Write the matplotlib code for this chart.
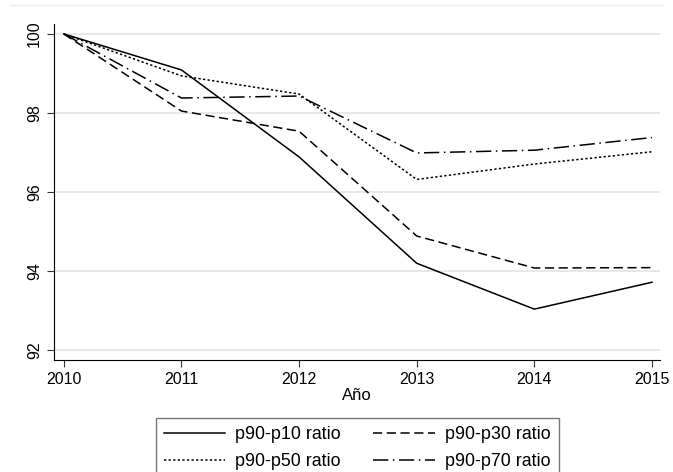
import matplotlib
matplotlib.use('Agg')
import matplotlib.pyplot as plt

plt.rcParams['font.family'] = ['Liberation Sans', 'DejaVu Sans']

years = [2010, 2011, 2012, 2013, 2014, 2015]
p90_p10 = [100, 99.09, 96.89, 94.20, 93.04, 93.72]
p90_p30 = [100, 98.05, 97.54, 94.89, 94.08, 94.09]
p90_p50 = [100, 98.94, 98.48, 96.32, 96.71, 97.02]
p90_p70 = [100, 98.38, 98.43, 96.99, 97.06, 97.38]

fig = plt.figure(figsize=(6.73, 4.72), dpi=100)
ax = fig.add_axes([0.080, 0.237, 0.901, 0.712])

lw = 1.1
l1, = ax.plot(years, p90_p10, color='black', lw=lw, ls='-', label='p90-p10 ratio')
l2, = ax.plot(years, p90_p30, color='black', lw=lw, ls=(0, (6, 3)), label='p90-p30 ratio')
l3, = ax.plot(years, p90_p50, color='black', lw=lw, ls=(0, (1.5, 1.5)), label='p90-p50 ratio')
l4, = ax.plot(years, p90_p70, color='black', lw=lw, ls=(0, (10, 3, 1, 3)), label='p90-p70 ratio')

ax.set_xlim(2009.915, 2015.07)
ax.set_ylim(91.75, 100.25)
ax.set_xticks(years)
ax.set_yticks([92, 94, 96, 98, 100])
ax.yaxis.grid(True, color='#e4e4e4', lw=1.2)
ax.set_axisbelow(True)
for s in ['top', 'right']:
    ax.spines[s].set_visible(False)
ax.tick_params(labelsize=11.5, length=5, color='#333333')
plt.setp(ax.get_yticklabels(), rotation=90, va='center')
ax.set_xlabel('Año', fontsize=12, labelpad=1)

# orden por filas como en el original
hs = [l1, l3, l2, l4]
leg = ax.legend(hs, [h.get_label() for h in hs], loc='upper center',
                bbox_to_anchor=(0.5, -0.146), ncol=2,
                fontsize=12.9, frameon=True, fancybox=False, edgecolor='#555555',
                handlelength=3.45, handletextpad=0.55, columnspacing=1.8,
                borderpad=0.45, labelspacing=0.54)
leg.get_frame().set_linewidth(1.0)

fig.add_artist(plt.Line2D([0.015, 0.985], [0.99, 0.99], color='#eeeeee', lw=1))

fig.savefig('out.png', dpi=100)
